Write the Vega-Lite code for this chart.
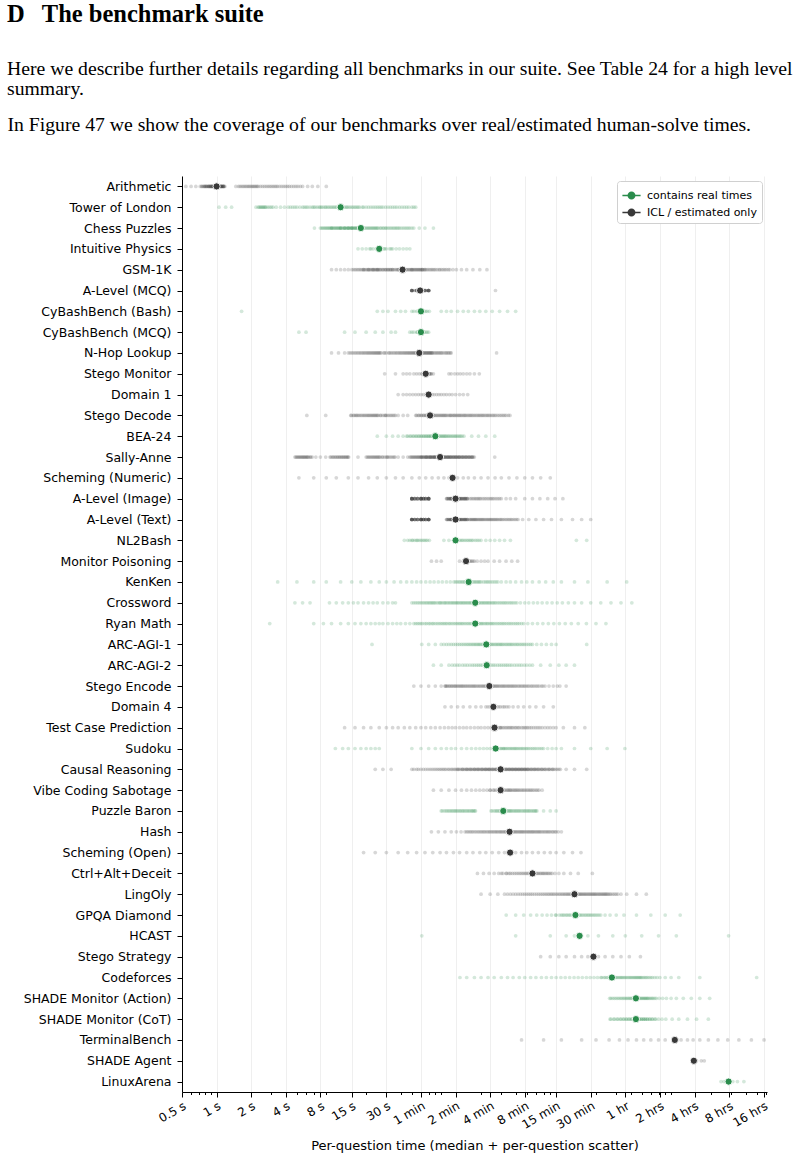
{
  "$schema": "https://vega.github.io/schema/vega-lite/v6.json",
  "autosize": "none",
  "width": 585,
  "height": 916,
  "padding": {"left": 182, "top": 176, "right": 37, "bottom": 69},
  "background": "white",
  "config": {"font": "DejaVu Sans", "view": {"stroke": null}},
  "title": {
    "text": "D\u2002\u2009The benchmark suite",
    "subtitle": [
      "Here we describe further details regarding all benchmarks in our suite. See Table 24 for a high level",
      "summary."
    ],
    "anchor": "start",
    "frame": "group",
    "dx": -175,
    "offset": 14,
    "font": "Liberation Serif",
    "fontSize": 24.5,
    "fontWeight": "bold",
    "color": "black",
    "subtitleFont": "Liberation Serif",
    "subtitleFontSize": 19.7,
    "subtitleColor": "black",
    "subtitleLineHeight": 20,
    "subtitlePadding": 32
  },
  "datasets": {
    "medians": [
      {"k": 1, "b": "Arithmetic", "src": "ICL / estimated only", "t": 1.0},
      {"k": 2, "b": "Tower of London", "src": "contains real times", "t": 12},
      {"k": 3, "b": "Chess Puzzles", "src": "contains real times", "t": 18},
      {"k": 4, "b": "Intuitive Physics", "src": "contains real times", "t": 26},
      {"k": 5, "b": "GSM-1K", "src": "ICL / estimated only", "t": 41.5},
      {"k": 6, "b": "A-Level (MCQ)", "src": "ICL / estimated only", "t": 59},
      {"k": 7, "b": "CyBashBench (Bash)", "src": "contains real times", "t": 60},
      {"k": 8, "b": "CyBashBench (MCQ)", "src": "contains real times", "t": 60},
      {"k": 9, "b": "N-Hop Lookup", "src": "ICL / estimated only", "t": 58},
      {"k": 10, "b": "Stego Monitor", "src": "ICL / estimated only", "t": 66},
      {"k": 11, "b": "Domain 1", "src": "ICL / estimated only", "t": 70},
      {"k": 12, "b": "Stego Decode", "src": "ICL / estimated only", "t": 72},
      {"k": 13, "b": "BEA-24", "src": "contains real times", "t": 80},
      {"k": 14, "b": "Sally-Anne", "src": "ICL / estimated only", "t": 88},
      {"k": 15, "b": "Scheming (Numeric)", "src": "ICL / estimated only", "t": 113},
      {"k": 16, "b": "A-Level (Image)", "src": "ICL / estimated only", "t": 120},
      {"k": 17, "b": "A-Level (Text)", "src": "ICL / estimated only", "t": 120},
      {"k": 18, "b": "NL2Bash", "src": "contains real times", "t": 120},
      {"k": 19, "b": "Monitor Poisoning", "src": "ICL / estimated only", "t": 148},
      {"k": 20, "b": "KenKen", "src": "contains real times", "t": 156},
      {"k": 21, "b": "Crossword", "src": "contains real times", "t": 178},
      {"k": 22, "b": "Ryan Math", "src": "contains real times", "t": 178},
      {"k": 23, "b": "ARC-AGI-1", "src": "contains real times", "t": 222},
      {"k": 24, "b": "ARC-AGI-2", "src": "contains real times", "t": 224},
      {"k": 25, "b": "Stego Encode", "src": "ICL / estimated only", "t": 236},
      {"k": 26, "b": "Domain 4", "src": "ICL / estimated only", "t": 256},
      {"k": 27, "b": "Test Case Prediction", "src": "ICL / estimated only", "t": 262},
      {"k": 28, "b": "Sudoku", "src": "contains real times", "t": 268},
      {"k": 29, "b": "Causal Reasoning", "src": "ICL / estimated only", "t": 296},
      {"k": 30, "b": "Vibe Coding Sabotage", "src": "ICL / estimated only", "t": 296},
      {"k": 31, "b": "Puzzle Baron", "src": "contains real times", "t": 312},
      {"k": 32, "b": "Hash", "src": "ICL / estimated only", "t": 354},
      {"k": 33, "b": "Scheming (Open)", "src": "ICL / estimated only", "t": 358},
      {"k": 34, "b": "Ctrl+Alt+Deceit", "src": "ICL / estimated only", "t": 560},
      {"k": 35, "b": "LingOly", "src": "ICL / estimated only", "t": 1300},
      {"k": 36, "b": "GPQA Diamond", "src": "contains real times", "t": 1325},
      {"k": 37, "b": "HCAST", "src": "contains real times", "t": 1440},
      {"k": 38, "b": "Stego Strategy", "src": "ICL / estimated only", "t": 1900},
      {"k": 39, "b": "Codeforces", "src": "contains real times", "t": 2750},
      {"k": 40, "b": "SHADE Monitor (Action)", "src": "contains real times", "t": 4450},
      {"k": 41, "b": "SHADE Monitor (CoT)", "src": "contains real times", "t": 4450},
      {"k": 42, "b": "TerminalBench", "src": "ICL / estimated only", "t": 9700},
      {"k": 43, "b": "SHADE Agent", "src": "ICL / estimated only", "t": 14200},
      {"k": 44, "b": "LinuxArena", "src": "contains real times", "t": 28500}
    ],
    "scatter": [
      {"k":1,"t":0.54},{"k":1,"t":0.6},{"k":1,"t":0.66},{"k":1,"t":0.72},{"k":1,"t":0.75},{"k":1,"t":0.78},{"k":1,"t":0.8},{"k":1,"t":0.82},{"k":1,"t":0.85},{"k":1,"t":0.85},{"k":1,"t":0.87},{"k":1,"t":0.9},{"k":1,"t":0.9},{"k":1,"t":0.92},{"k":1,"t":0.95},{"k":1,"t":0.95},{"k":1,"t":0.97},{"k":1,"t":1.0},{"k":1,"t":1.0},{"k":1,"t":1.03},{"k":1,"t":1.05},{"k":1,"t":1.05},{"k":1,"t":1.08},{"k":1,"t":1.1},{"k":1,"t":1.1},{"k":1,"t":1.12},{"k":1,"t":1.15},{"k":1,"t":1.15},{"k":1,"t":1.18},{"k":1,"t":1.47},{"k":1,"t":1.6},{"k":1,"t":1.7},{"k":1,"t":1.8},{"k":1,"t":1.9},{"k":1,"t":2.0},{"k":1,"t":2.1},{"k":1,"t":2.2},{"k":1,"t":2.3},{"k":1,"t":2.5},{"k":1,"t":2.6},{"k":1,"t":2.8},{"k":1,"t":3.0},{"k":1,"t":3.2},{"k":1,"t":3.4},{"k":1,"t":3.7},{"k":1,"t":4.0},{"k":1,"t":4.3},{"k":1,"t":4.7},{"k":1,"t":5.1},{"k":1,"t":5.6},{"k":1,"t":6.2},{"k":1,"t":6.8},{"k":1,"t":7.6},{"k":1,"t":9.0},
      {"k":1,"t":0.74},{"k":1,"t":0.77},{"k":1,"t":0.79},{"k":1,"t":0.81},{"k":1,"t":0.83},{"k":1,"t":0.86},{"k":1,"t":0.88},{"k":1,"t":0.89},{"k":1,"t":0.91},{"k":1,"t":0.93},{"k":1,"t":0.94},{"k":1,"t":0.96},{"k":1,"t":0.98},{"k":1,"t":0.99},{"k":1,"t":1.01},{"k":1,"t":1.02},{"k":1,"t":1.04},{"k":1,"t":1.06},{"k":1,"t":1.07},{"k":1,"t":1.09},{"k":1,"t":1.11},{"k":1,"t":1.13},{"k":1,"t":1.14},{"k":1,"t":1.16},{"k":1,"t":1.55},{"k":1,"t":1.65},{"k":1,"t":1.75},{"k":1,"t":1.85},{"k":1,"t":1.95},{"k":1,"t":2.05},{"k":1,"t":2.15},{"k":1,"t":2.25},{"k":1,"t":2.4},{"k":1,"t":2.7},{"k":1,"t":2.9},{"k":1,"t":3.1},{"k":1,"t":3.3},{"k":1,"t":3.55},{"k":1,"t":3.85},{"k":1,"t":4.15},{"k":1,"t":4.5},{"k":1,"t":4.9},{"k":1,"t":5.35},
      {"k":2,"t":1.05},{"k":2,"t":1.2},{"k":2,"t":1.35},{"k":2,"t":2.2},{"k":2,"t":2.3},{"k":2,"t":2.4},{"k":2,"t":2.5},{"k":2,"t":2.6},{"k":2,"t":2.7},{"k":2,"t":2.9},{"k":2,"t":3.1},{"k":2,"t":3.6},{"k":2,"t":4.2},{"k":2,"t":4.4},{"k":2,"t":5.6},{"k":2,"t":6.0},{"k":2,"t":6.5},{"k":2,"t":7.0},{"k":2,"t":7.5},{"k":2,"t":8.0},{"k":2,"t":8.5},{"k":2,"t":9.0},{"k":2,"t":9.6},{"k":2,"t":10.2},{"k":2,"t":10.8},{"k":2,"t":11.5},{"k":2,"t":12.5},{"k":2,"t":13.3},{"k":2,"t":14},{"k":2,"t":15},{"k":2,"t":16},{"k":2,"t":17},{"k":2,"t":18.5},{"k":2,"t":20},{"k":2,"t":22},{"k":2,"t":24},{"k":2,"t":26},{"k":2,"t":28},{"k":2,"t":31},{"k":2,"t":34},{"k":2,"t":37},{"k":2,"t":41},{"k":2,"t":45},{"k":2,"t":50},{"k":2,"t":54},
      {"k":2,"t":2.35},{"k":2,"t":2.45},{"k":2,"t":2.55},{"k":2,"t":2.65},{"k":2,"t":2.8},{"k":2,"t":3.0},{"k":2,"t":3.3},{"k":2,"t":3.9},{"k":2,"t":4.6},{"k":2,"t":4.8},{"k":2,"t":5.0},{"k":2,"t":5.3},{"k":2,"t":5.8},{"k":2,"t":6.2},{"k":2,"t":6.8},{"k":2,"t":7.2},{"k":2,"t":7.8},{"k":2,"t":8.2},{"k":2,"t":8.8},{"k":2,"t":9.3},{"k":2,"t":9.9},{"k":2,"t":10.5},{"k":2,"t":11.1},{"k":2,"t":11.8},{"k":2,"t":12.2},{"k":2,"t":12.8},{"k":2,"t":13.6},{"k":2,"t":14.5},{"k":2,"t":15.5},{"k":2,"t":16.5},{"k":2,"t":17.5},{"k":2,"t":19},{"k":2,"t":21},{"k":2,"t":23},{"k":2,"t":25},{"k":2,"t":27},{"k":2,"t":29.5},{"k":2,"t":32.5},{"k":2,"t":35.5},{"k":2,"t":39},{"k":2,"t":43},{"k":2,"t":47},{"k":2,"t":52},
      {"k":3,"t":7.1},{"k":3,"t":8.0},{"k":3,"t":8.4},{"k":3,"t":8.8},{"k":3,"t":9},{"k":3,"t":9.2},{"k":3,"t":9.6},{"k":3,"t":10},{"k":3,"t":10},{"k":3,"t":10.4},{"k":3,"t":10.8},{"k":3,"t":11},{"k":3,"t":11.2},{"k":3,"t":11.6},{"k":3,"t":12},{"k":3,"t":12},{"k":3,"t":12.5},{"k":3,"t":13},{"k":3,"t":13},{"k":3,"t":13.5},{"k":3,"t":14},{"k":3,"t":14},{"k":3,"t":14.5},{"k":3,"t":15},{"k":3,"t":15},{"k":3,"t":15.5},{"k":3,"t":16},{"k":3,"t":16.5},{"k":3,"t":17},{"k":3,"t":17.5},{"k":3,"t":18},{"k":3,"t":19},{"k":3,"t":20},{"k":3,"t":21},{"k":3,"t":22},{"k":3,"t":23},{"k":3,"t":24},{"k":3,"t":25},{"k":3,"t":26.5},{"k":3,"t":28},{"k":3,"t":29.5},{"k":3,"t":31},{"k":3,"t":33},{"k":3,"t":35},{"k":3,"t":37},{"k":3,"t":39},{"k":3,"t":42},{"k":3,"t":45},{"k":3,"t":48},{"k":3,"t":52},{"k":3,"t":58},{"k":3,"t":65},{"k":3,"t":77},
      {"k":3,"t":8.2},{"k":3,"t":8.6},{"k":3,"t":9.4},{"k":3,"t":9.8},{"k":3,"t":10.2},{"k":3,"t":10.6},{"k":3,"t":11.4},{"k":3,"t":11.8},{"k":3,"t":12.2},{"k":3,"t":12.8},{"k":3,"t":13.2},{"k":3,"t":13.8},{"k":3,"t":14.2},{"k":3,"t":14.8},{"k":3,"t":15.2},{"k":3,"t":15.8},{"k":3,"t":16.2},{"k":3,"t":16.8},{"k":3,"t":17.2},{"k":3,"t":17.8},{"k":3,"t":18.5},{"k":3,"t":19.5},{"k":3,"t":20.5},{"k":3,"t":21.5},{"k":3,"t":22.5},{"k":3,"t":23.5},{"k":3,"t":24.5},{"k":3,"t":25.5},{"k":3,"t":27},{"k":3,"t":28.5},{"k":3,"t":30},{"k":3,"t":32},{"k":3,"t":34},{"k":3,"t":36},{"k":3,"t":38},{"k":3,"t":40.5},{"k":3,"t":43.5},{"k":3,"t":46.5},{"k":3,"t":50},
      {"k":4,"t":17},{"k":4,"t":18.5},{"k":4,"t":20},{"k":4,"t":21.5},{"k":4,"t":23},{"k":4,"t":24.5},{"k":4,"t":25},{"k":4,"t":27},{"k":4,"t":28.5},{"k":4,"t":30},{"k":4,"t":32},{"k":4,"t":34},{"k":4,"t":36.5},{"k":4,"t":39},{"k":4,"t":42},{"k":4,"t":45},{"k":4,"t":48},{"k":4,"t":22},{"k":4,"t":26},{"k":4,"t":29},{"k":4,"t":33},
      {"k":5,"t":10},{"k":5,"t":11},{"k":5,"t":12},{"k":5,"t":13},{"k":5,"t":14},{"k":5,"t":15},{"k":5,"t":16},{"k":5,"t":17},{"k":5,"t":18},{"k":5,"t":19},{"k":5,"t":19},{"k":5,"t":20},{"k":5,"t":21},{"k":5,"t":21},{"k":5,"t":22},{"k":5,"t":23},{"k":5,"t":23},{"k":5,"t":24},{"k":5,"t":25},{"k":5,"t":25},{"k":5,"t":26.5},{"k":5,"t":28},{"k":5,"t":28},{"k":5,"t":29.5},{"k":5,"t":31},{"k":5,"t":31},{"k":5,"t":32.5},{"k":5,"t":34},{"k":5,"t":34},{"k":5,"t":36},{"k":5,"t":38},{"k":5,"t":38},{"k":5,"t":40},{"k":5,"t":42},{"k":5,"t":44},{"k":5,"t":44},{"k":5,"t":46},{"k":5,"t":48},{"k":5,"t":50},{"k":5,"t":50},{"k":5,"t":53},{"k":5,"t":56},{"k":5,"t":59},{"k":5,"t":62},{"k":5,"t":62},{"k":5,"t":66},{"k":5,"t":70},{"k":5,"t":74},{"k":5,"t":78},{"k":5,"t":83},{"k":5,"t":88},{"k":5,"t":94},{"k":5,"t":100},{"k":5,"t":107},{"k":5,"t":114},{"k":5,"t":122},{"k":5,"t":135},{"k":5,"t":150},{"k":5,"t":170},{"k":5,"t":195},{"k":5,"t":225},
      {"k":5,"t":15.5},{"k":5,"t":16.5},{"k":5,"t":17.5},{"k":5,"t":18.5},{"k":5,"t":19.5},{"k":5,"t":20.5},{"k":5,"t":21.5},{"k":5,"t":22.5},{"k":5,"t":23.5},{"k":5,"t":24.5},{"k":5,"t":25.5},{"k":5,"t":26},{"k":5,"t":27},{"k":5,"t":29},{"k":5,"t":30},{"k":5,"t":32},{"k":5,"t":33},{"k":5,"t":35},{"k":5,"t":37},{"k":5,"t":39},{"k":5,"t":41},{"k":5,"t":43},{"k":5,"t":45},{"k":5,"t":47},{"k":5,"t":49},{"k":5,"t":51},{"k":5,"t":52},{"k":5,"t":54},{"k":5,"t":55},{"k":5,"t":57},{"k":5,"t":58},{"k":5,"t":60},{"k":5,"t":61},{"k":5,"t":64},{"k":5,"t":65},{"k":5,"t":68},{"k":5,"t":72},{"k":5,"t":76},{"k":5,"t":80},{"k":5,"t":86},{"k":5,"t":91},{"k":5,"t":97},{"k":5,"t":104},
      {"k":6,"t":50},{"k":6,"t":50},{"k":6,"t":50},{"k":6,"t":50},{"k":6,"t":52},{"k":6,"t":54},{"k":6,"t":55},{"k":6,"t":55},{"k":6,"t":56},{"k":6,"t":58},{"k":6,"t":60},{"k":6,"t":60},{"k":6,"t":60},{"k":6,"t":62},{"k":6,"t":64},{"k":6,"t":65},{"k":6,"t":65},{"k":6,"t":66},{"k":6,"t":68},{"k":6,"t":70},{"k":6,"t":70},{"k":6,"t":70},{"k":6,"t":70},{"k":6,"t":267},
      {"k":6,"t":50},{"k":6,"t":50},{"k":6,"t":50},{"k":6,"t":55},{"k":6,"t":55},{"k":6,"t":60},{"k":6,"t":60},{"k":6,"t":60},{"k":6,"t":65},{"k":6,"t":65},{"k":6,"t":70},{"k":6,"t":70},{"k":6,"t":70},
      {"k":7,"t":1.65},{"k":7,"t":25},{"k":7,"t":28},{"k":7,"t":31},{"k":7,"t":36},{"k":7,"t":40},{"k":7,"t":44},{"k":7,"t":50},{"k":7,"t":52},{"k":7,"t":55},{"k":7,"t":57},{"k":7,"t":58},{"k":7,"t":60},{"k":7,"t":60},{"k":7,"t":62},{"k":7,"t":64},{"k":7,"t":66},{"k":7,"t":68},{"k":7,"t":71},{"k":7,"t":90},{"k":7,"t":100},{"k":7,"t":110},{"k":7,"t":125},{"k":7,"t":140},{"k":7,"t":155},{"k":7,"t":175},{"k":7,"t":195},{"k":7,"t":220},{"k":7,"t":250},{"k":7,"t":290},{"k":7,"t":340},{"k":7,"t":400},
      {"k":8,"t":5.2},{"k":8,"t":6},{"k":8,"t":13},{"k":8,"t":16},{"k":8,"t":20},{"k":8,"t":24},{"k":8,"t":28},{"k":8,"t":33},{"k":8,"t":36},{"k":8,"t":48},{"k":8,"t":50},{"k":8,"t":52},{"k":8,"t":55},{"k":8,"t":57},{"k":8,"t":58},{"k":8,"t":60},{"k":8,"t":60},{"k":8,"t":62},{"k":8,"t":64},{"k":8,"t":66},{"k":8,"t":68},{"k":8,"t":70},{"k":8,"t":56},{"k":8,"t":59},{"k":8,"t":61},{"k":8,"t":63},
      {"k":9,"t":10},{"k":9,"t":11.5},{"k":9,"t":13},{"k":9,"t":14},{"k":9,"t":15},{"k":9,"t":16},{"k":9,"t":17},{"k":9,"t":18},{"k":9,"t":19},{"k":9,"t":20},{"k":9,"t":21},{"k":9,"t":22},{"k":9,"t":23},{"k":9,"t":24},{"k":9,"t":25},{"k":9,"t":26},{"k":9,"t":27},{"k":9,"t":28.5},{"k":9,"t":30},{"k":9,"t":31.5},{"k":9,"t":33},{"k":9,"t":35},{"k":9,"t":37},{"k":9,"t":39},{"k":9,"t":41},{"k":9,"t":43},{"k":9,"t":45},{"k":9,"t":47},{"k":9,"t":49},{"k":9,"t":51},{"k":9,"t":53},{"k":9,"t":55},{"k":9,"t":57},{"k":9,"t":58},{"k":9,"t":59},{"k":9,"t":60},{"k":9,"t":61},{"k":9,"t":63},{"k":9,"t":64},{"k":9,"t":66},{"k":9,"t":67},{"k":9,"t":69},{"k":9,"t":72},{"k":9,"t":75},{"k":9,"t":78},{"k":9,"t":82},{"k":9,"t":86},{"k":9,"t":90},{"k":9,"t":95},{"k":9,"t":100},{"k":9,"t":105},{"k":9,"t":110},{"k":9,"t":273},
      {"k":9,"t":14.5},{"k":9,"t":15.5},{"k":9,"t":16.5},{"k":9,"t":17.5},{"k":9,"t":18.5},{"k":9,"t":19.5},{"k":9,"t":20.5},{"k":9,"t":21.5},{"k":9,"t":22.5},{"k":9,"t":23.5},{"k":9,"t":24.5},{"k":9,"t":25.5},{"k":9,"t":26.5},{"k":9,"t":29},{"k":9,"t":32},{"k":9,"t":34},{"k":9,"t":36},{"k":9,"t":38},{"k":9,"t":40},{"k":9,"t":42},{"k":9,"t":44},{"k":9,"t":46},{"k":9,"t":48},{"k":9,"t":50},{"k":9,"t":52},{"k":9,"t":54},{"k":9,"t":56},{"k":9,"t":62},{"k":9,"t":65},{"k":9,"t":68},{"k":9,"t":70},{"k":9,"t":71},{"k":9,"t":73},{"k":9,"t":74},{"k":9,"t":76},{"k":9,"t":80},{"k":9,"t":84},{"k":9,"t":88},{"k":9,"t":92},{"k":9,"t":98},{"k":9,"t":103},{"k":9,"t":108},
      {"k":10,"t":29},{"k":10,"t":36},{"k":10,"t":42},{"k":10,"t":45},{"k":10,"t":48},{"k":10,"t":52},{"k":10,"t":55},{"k":10,"t":58},{"k":10,"t":61},{"k":10,"t":63},{"k":10,"t":65},{"k":10,"t":66},{"k":10,"t":68},{"k":10,"t":70},{"k":10,"t":72},{"k":10,"t":74},{"k":10,"t":77},{"k":10,"t":105},{"k":10,"t":110},{"k":10,"t":118},{"k":10,"t":125},{"k":10,"t":132},{"k":10,"t":140},{"k":10,"t":150},{"k":10,"t":160},{"k":10,"t":175},{"k":10,"t":193},{"k":10,"t":62},{"k":10,"t":64},{"k":10,"t":66},{"k":10,"t":67},{"k":10,"t":69},{"k":10,"t":71},{"k":10,"t":73},
      {"k":11,"t":38},{"k":11,"t":42},{"k":11,"t":45},{"k":11,"t":48},{"k":11,"t":51},{"k":11,"t":54},{"k":11,"t":57},{"k":11,"t":60},{"k":11,"t":63},{"k":11,"t":66},{"k":11,"t":69},{"k":11,"t":72},{"k":11,"t":75},{"k":11,"t":78},{"k":11,"t":82},{"k":11,"t":86},{"k":11,"t":90},{"k":11,"t":95},{"k":11,"t":100},{"k":11,"t":106},{"k":11,"t":112},{"k":11,"t":120},{"k":11,"t":130},{"k":11,"t":140},{"k":11,"t":153},
      {"k":12,"t":6.1},{"k":12,"t":8.9},{"k":12,"t":14.7},{"k":12,"t":15.5},{"k":12,"t":16.3},{"k":12,"t":17},{"k":12,"t":18},{"k":12,"t":19},{"k":12,"t":20},{"k":12,"t":21},{"k":12,"t":22},{"k":12,"t":23},{"k":12,"t":24},{"k":12,"t":25},{"k":12,"t":26.5},{"k":12,"t":28},{"k":12,"t":29.5},{"k":12,"t":31},{"k":12,"t":33},{"k":12,"t":35},{"k":12,"t":36},{"k":12,"t":38},{"k":12,"t":42},{"k":12,"t":46},{"k":12,"t":54},{"k":12,"t":57},{"k":12,"t":60},{"k":12,"t":63},{"k":12,"t":66},{"k":12,"t":69},{"k":12,"t":72},{"k":12,"t":75},{"k":12,"t":78},{"k":12,"t":82},{"k":12,"t":86},{"k":12,"t":90},{"k":12,"t":94},{"k":12,"t":98},{"k":12,"t":103},{"k":12,"t":108},{"k":12,"t":113},{"k":12,"t":118},{"k":12,"t":124},{"k":12,"t":130},{"k":12,"t":136},{"k":12,"t":143},{"k":12,"t":150},{"k":12,"t":158},{"k":12,"t":166},{"k":12,"t":175},{"k":12,"t":185},{"k":12,"t":195},{"k":12,"t":205},{"k":12,"t":216},{"k":12,"t":228},{"k":12,"t":240},{"k":12,"t":255},{"k":12,"t":270},{"k":12,"t":290},{"k":12,"t":310},{"k":12,"t":330},{"k":12,"t":357},
      {"k":12,"t":14.9},{"k":12,"t":15.8},{"k":12,"t":16.6},{"k":12,"t":17.5},{"k":12,"t":18.5},{"k":12,"t":19.5},{"k":12,"t":20.5},{"k":12,"t":21.5},{"k":12,"t":22.5},{"k":12,"t":23.5},{"k":12,"t":24.5},{"k":12,"t":25.5},{"k":12,"t":27},{"k":12,"t":29},{"k":12,"t":30},{"k":12,"t":32},{"k":12,"t":34},{"k":12,"t":55},{"k":12,"t":58},{"k":12,"t":61},{"k":12,"t":64},{"k":12,"t":67},{"k":12,"t":70},{"k":12,"t":74},{"k":12,"t":77},{"k":12,"t":80},{"k":12,"t":84},{"k":12,"t":88},{"k":12,"t":92},{"k":12,"t":96},{"k":12,"t":100},{"k":12,"t":106},{"k":12,"t":110},{"k":12,"t":116},{"k":12,"t":121},{"k":12,"t":127},{"k":12,"t":133},{"k":12,"t":140},{"k":12,"t":146},{"k":12,"t":154},{"k":12,"t":162},{"k":12,"t":170},{"k":12,"t":180},{"k":12,"t":190},{"k":12,"t":200},{"k":12,"t":210},{"k":12,"t":222},{"k":12,"t":234},{"k":12,"t":248},{"k":12,"t":262},{"k":12,"t":280},{"k":12,"t":300},{"k":12,"t":320},{"k":12,"t":345},
      {"k":13,"t":25},{"k":13,"t":30},{"k":13,"t":34},{"k":13,"t":38},{"k":13,"t":42},{"k":13,"t":45},{"k":13,"t":48},{"k":13,"t":51},{"k":13,"t":54},{"k":13,"t":57},{"k":13,"t":60},{"k":13,"t":63},{"k":13,"t":66},{"k":13,"t":69},{"k":13,"t":72},{"k":13,"t":75},{"k":13,"t":78},{"k":13,"t":80},{"k":13,"t":83},{"k":13,"t":86},{"k":13,"t":90},{"k":13,"t":94},{"k":13,"t":98},{"k":13,"t":103},{"k":13,"t":108},{"k":13,"t":114},{"k":13,"t":120},{"k":13,"t":126},{"k":13,"t":133},{"k":13,"t":142},{"k":13,"t":166},{"k":13,"t":190},{"k":13,"t":220},{"k":13,"t":263},
      {"k":13,"t":46},{"k":13,"t":49},{"k":13,"t":52},{"k":13,"t":55},{"k":13,"t":58},{"k":13,"t":61},{"k":13,"t":64},{"k":13,"t":67},{"k":13,"t":70},{"k":13,"t":73},{"k":13,"t":76},{"k":13,"t":79},{"k":13,"t":81},{"k":13,"t":84},{"k":13,"t":88},{"k":13,"t":92},{"k":13,"t":96},{"k":13,"t":100},{"k":13,"t":105},{"k":13,"t":111},{"k":13,"t":117},{"k":13,"t":123},{"k":13,"t":130},{"k":13,"t":137},
      {"k":14,"t":4.8},{"k":14,"t":5.0},{"k":14,"t":5.2},{"k":14,"t":5.4},{"k":14,"t":5.6},{"k":14,"t":5.8},{"k":14,"t":6.0},{"k":14,"t":6.2},{"k":14,"t":6.5},{"k":14,"t":6.8},{"k":14,"t":7.3},{"k":14,"t":8.0},{"k":14,"t":8.9},{"k":14,"t":9.7},{"k":14,"t":10.2},{"k":14,"t":10.7},{"k":14,"t":11.2},{"k":14,"t":11.7},{"k":14,"t":12.2},{"k":14,"t":12.7},{"k":14,"t":13.2},{"k":14,"t":13.7},{"k":14,"t":14.1},{"k":14,"t":17},{"k":14,"t":20},{"k":14,"t":21},{"k":14,"t":22},{"k":14,"t":23},{"k":14,"t":24},{"k":14,"t":25},{"k":14,"t":26},{"k":14,"t":27.5},{"k":14,"t":29},{"k":14,"t":30.5},{"k":14,"t":32},{"k":14,"t":34},{"k":14,"t":35.7},{"k":14,"t":38},{"k":14,"t":42},{"k":14,"t":46},{"k":14,"t":48},{"k":14,"t":50},{"k":14,"t":52},{"k":14,"t":54},{"k":14,"t":56},{"k":14,"t":58},{"k":14,"t":60},{"k":14,"t":62},{"k":14,"t":64},{"k":14,"t":66},{"k":14,"t":68},{"k":14,"t":70},{"k":14,"t":72},{"k":14,"t":74},{"k":14,"t":76},{"k":14,"t":78},{"k":14,"t":80},{"k":14,"t":83},{"k":14,"t":86},{"k":14,"t":89},{"k":14,"t":92},{"k":14,"t":95},{"k":14,"t":98},{"k":14,"t":101},{"k":14,"t":104},{"k":14,"t":107},{"k":14,"t":110},{"k":14,"t":114},{"k":14,"t":118},{"k":14,"t":122},{"k":14,"t":126},{"k":14,"t":130},{"k":14,"t":135},{"k":14,"t":140},{"k":14,"t":145},{"k":14,"t":150},{"k":14,"t":156},{"k":14,"t":162},{"k":14,"t":168},{"k":14,"t":175},{"k":14,"t":263},
      {"k":14,"t":4.9},{"k":14,"t":5.1},{"k":14,"t":5.3},{"k":14,"t":5.5},{"k":14,"t":5.7},{"k":14,"t":5.9},{"k":14,"t":6.1},{"k":14,"t":6.3},{"k":14,"t":6.6},{"k":14,"t":9.9},{"k":14,"t":10.4},{"k":14,"t":10.9},{"k":14,"t":11.4},{"k":14,"t":11.9},{"k":14,"t":12.4},{"k":14,"t":12.9},{"k":14,"t":13.4},{"k":14,"t":13.9},{"k":14,"t":20.5},{"k":14,"t":21.5},{"k":14,"t":22.5},{"k":14,"t":23.5},{"k":14,"t":24.5},{"k":14,"t":25.5},{"k":14,"t":26.5},{"k":14,"t":28},{"k":14,"t":30},{"k":14,"t":31},{"k":14,"t":33},{"k":14,"t":35},{"k":14,"t":49},{"k":14,"t":51},{"k":14,"t":53},{"k":14,"t":55},{"k":14,"t":57},{"k":14,"t":59},{"k":14,"t":61},{"k":14,"t":63},{"k":14,"t":65},{"k":14,"t":67},{"k":14,"t":69},{"k":14,"t":71},{"k":14,"t":73},{"k":14,"t":75},{"k":14,"t":77},{"k":14,"t":79},{"k":14,"t":81},{"k":14,"t":84},{"k":14,"t":87},{"k":14,"t":90},{"k":14,"t":93},{"k":14,"t":96},{"k":14,"t":99},{"k":14,"t":102},{"k":14,"t":105},{"k":14,"t":108},{"k":14,"t":112},{"k":14,"t":116},{"k":14,"t":120},{"k":14,"t":124},{"k":14,"t":128},{"k":14,"t":132},{"k":14,"t":137},{"k":14,"t":142},{"k":14,"t":148},{"k":14,"t":153},{"k":14,"t":159},{"k":14,"t":165},{"k":14,"t":171},{"k":14,"t":60.5},{"k":14,"t":66.5},{"k":14,"t":72.5},{"k":14,"t":78.5},{"k":14,"t":85},{"k":14,"t":91},{"k":14,"t":97},{"k":14,"t":103},{"k":14,"t":109},{"k":14,"t":115},{"k":14,"t":121},{"k":14,"t":129},{"k":14,"t":138},{"k":14,"t":147},{"k":14,"t":157},{"k":14,"t":167},
      {"k":15,"t":5.2},{"k":15,"t":7},{"k":15,"t":9},{"k":15,"t":11},{"k":15,"t":14},{"k":15,"t":17},{"k":15,"t":21},{"k":15,"t":25},{"k":15,"t":30},{"k":15,"t":36},{"k":15,"t":42},{"k":15,"t":50},{"k":15,"t":58},{"k":15,"t":66},{"k":15,"t":75},{"k":15,"t":85},{"k":15,"t":95},{"k":15,"t":105},{"k":15,"t":125},{"k":15,"t":140},{"k":15,"t":155},{"k":15,"t":175},{"k":15,"t":200},{"k":15,"t":230},{"k":15,"t":265},{"k":15,"t":300},{"k":15,"t":350},{"k":15,"t":410},{"k":15,"t":480},{"k":15,"t":560},{"k":15,"t":660},{"k":15,"t":800},
      {"k":16,"t":50},{"k":16,"t":50},{"k":16,"t":50},{"k":16,"t":50},{"k":16,"t":50},{"k":16,"t":53},{"k":16,"t":53},{"k":16,"t":53},{"k":16,"t":56},{"k":16,"t":56},{"k":16,"t":56},{"k":16,"t":60},{"k":16,"t":60},{"k":16,"t":60},{"k":16,"t":60},{"k":16,"t":60},{"k":16,"t":63},{"k":16,"t":63},{"k":16,"t":63},{"k":16,"t":66},{"k":16,"t":66},{"k":16,"t":66},{"k":16,"t":70},{"k":16,"t":70},{"k":16,"t":70},{"k":16,"t":70},{"k":16,"t":70},{"k":16,"t":100},{"k":16,"t":102},{"k":16,"t":105},{"k":16,"t":108},{"k":16,"t":110},{"k":16,"t":112},{"k":16,"t":115},{"k":16,"t":118},{"k":16,"t":120},{"k":16,"t":122},{"k":16,"t":125},{"k":16,"t":128},{"k":16,"t":130},{"k":16,"t":133},{"k":16,"t":136},{"k":16,"t":140},{"k":16,"t":143},{"k":16,"t":146},{"k":16,"t":150},{"k":16,"t":153},{"k":16,"t":160},{"k":16,"t":170},{"k":16,"t":180},{"k":16,"t":190},{"k":16,"t":200},{"k":16,"t":215},{"k":16,"t":230},{"k":16,"t":245},{"k":16,"t":260},{"k":16,"t":280},{"k":16,"t":300},{"k":16,"t":330},{"k":16,"t":360},{"k":16,"t":400},{"k":16,"t":480},{"k":16,"t":560},{"k":16,"t":650},{"k":16,"t":760},{"k":16,"t":880},{"k":16,"t":1030},
      {"k":16,"t":50},{"k":16,"t":50},{"k":16,"t":50},{"k":16,"t":53},{"k":16,"t":53},{"k":16,"t":56},{"k":16,"t":56},{"k":16,"t":60},{"k":16,"t":60},{"k":16,"t":60},{"k":16,"t":63},{"k":16,"t":63},{"k":16,"t":66},{"k":16,"t":66},{"k":16,"t":70},{"k":16,"t":70},{"k":16,"t":70},{"k":16,"t":101},{"k":16,"t":104},{"k":16,"t":107},{"k":16,"t":109},{"k":16,"t":111},{"k":16,"t":114},{"k":16,"t":117},{"k":16,"t":119},{"k":16,"t":121},{"k":16,"t":124},{"k":16,"t":127},{"k":16,"t":129},{"k":16,"t":132},{"k":16,"t":135},{"k":16,"t":138},{"k":16,"t":142},{"k":16,"t":145},{"k":16,"t":148},{"k":16,"t":152},{"k":16,"t":165},{"k":16,"t":175},{"k":16,"t":185},{"k":16,"t":195},{"k":16,"t":208},{"k":16,"t":222},{"k":16,"t":238},{"k":16,"t":252},{"k":16,"t":270},{"k":16,"t":290},
      {"k":17,"t":50},{"k":17,"t":50},{"k":17,"t":50},{"k":17,"t":50},{"k":17,"t":50},{"k":17,"t":53},{"k":17,"t":53},{"k":17,"t":53},{"k":17,"t":56},{"k":17,"t":56},{"k":17,"t":56},{"k":17,"t":60},{"k":17,"t":60},{"k":17,"t":60},{"k":17,"t":60},{"k":17,"t":60},{"k":17,"t":63},{"k":17,"t":63},{"k":17,"t":63},{"k":17,"t":66},{"k":17,"t":66},{"k":17,"t":66},{"k":17,"t":70},{"k":17,"t":70},{"k":17,"t":70},{"k":17,"t":70},{"k":17,"t":70},{"k":17,"t":100},{"k":17,"t":102},{"k":17,"t":105},{"k":17,"t":108},{"k":17,"t":110},{"k":17,"t":112},{"k":17,"t":115},{"k":17,"t":118},{"k":17,"t":120},{"k":17,"t":122},{"k":17,"t":125},{"k":17,"t":128},{"k":17,"t":130},{"k":17,"t":133},{"k":17,"t":136},{"k":17,"t":140},{"k":17,"t":143},{"k":17,"t":146},{"k":17,"t":150},{"k":17,"t":153},{"k":17,"t":158},{"k":17,"t":164},{"k":17,"t":170},{"k":17,"t":176},{"k":17,"t":182},{"k":17,"t":190},{"k":17,"t":198},{"k":17,"t":206},{"k":17,"t":215},{"k":17,"t":225},{"k":17,"t":235},{"k":17,"t":245},{"k":17,"t":256},{"k":17,"t":268},{"k":17,"t":280},{"k":17,"t":295},{"k":17,"t":310},{"k":17,"t":330},{"k":17,"t":350},{"k":17,"t":370},{"k":17,"t":395},{"k":17,"t":420},{"k":17,"t":460},{"k":17,"t":520},{"k":17,"t":600},{"k":17,"t":700},{"k":17,"t":820},{"k":17,"t":1000},{"k":17,"t":1250},{"k":17,"t":1500},{"k":17,"t":1800},
      {"k":17,"t":50},{"k":17,"t":50},{"k":17,"t":50},{"k":17,"t":53},{"k":17,"t":53},{"k":17,"t":56},{"k":17,"t":56},{"k":17,"t":60},{"k":17,"t":60},{"k":17,"t":60},{"k":17,"t":63},{"k":17,"t":63},{"k":17,"t":66},{"k":17,"t":66},{"k":17,"t":70},{"k":17,"t":70},{"k":17,"t":70},{"k":17,"t":101},{"k":17,"t":104},{"k":17,"t":107},{"k":17,"t":109},{"k":17,"t":111},{"k":17,"t":114},{"k":17,"t":117},{"k":17,"t":119},{"k":17,"t":121},{"k":17,"t":124},{"k":17,"t":127},{"k":17,"t":129},{"k":17,"t":132},{"k":17,"t":135},{"k":17,"t":138},{"k":17,"t":142},{"k":17,"t":145},{"k":17,"t":148},{"k":17,"t":152},{"k":17,"t":161},{"k":17,"t":167},{"k":17,"t":173},{"k":17,"t":179},{"k":17,"t":186},{"k":17,"t":194},{"k":17,"t":202},{"k":17,"t":210},{"k":17,"t":220},{"k":17,"t":230},{"k":17,"t":240},{"k":17,"t":250},{"k":17,"t":262},{"k":17,"t":274},{"k":17,"t":288},{"k":17,"t":302},{"k":17,"t":320},{"k":17,"t":340},{"k":17,"t":360},{"k":17,"t":382},{"k":17,"t":408},
      {"k":18,"t":43},{"k":18,"t":46},{"k":18,"t":50},{"k":18,"t":53},{"k":18,"t":56},{"k":18,"t":60},{"k":18,"t":64},{"k":18,"t":68},{"k":18,"t":71},{"k":18,"t":95},{"k":18,"t":105},{"k":18,"t":115},{"k":18,"t":125},{"k":18,"t":132},{"k":18,"t":140},{"k":18,"t":150},{"k":18,"t":160},{"k":18,"t":170},{"k":18,"t":185},{"k":18,"t":200},{"k":18,"t":220},{"k":18,"t":240},{"k":18,"t":263},{"k":18,"t":290},{"k":18,"t":320},{"k":18,"t":360},{"k":18,"t":1350},{"k":18,"t":1660},{"k":18,"t":48},{"k":18,"t":51},{"k":18,"t":55},{"k":18,"t":58},{"k":18,"t":62},{"k":18,"t":66},{"k":18,"t":118},{"k":18,"t":122},{"k":18,"t":128},{"k":18,"t":136},{"k":18,"t":145},{"k":18,"t":155},{"k":18,"t":165},{"k":18,"t":178},{"k":18,"t":192},
      {"k":19,"t":74},{"k":19,"t":82},{"k":19,"t":90},{"k":19,"t":130},{"k":19,"t":140},{"k":19,"t":158},{"k":19,"t":166},{"k":19,"t":175},{"k":19,"t":185},{"k":19,"t":200},{"k":19,"t":215},{"k":19,"t":230},{"k":19,"t":260},{"k":19,"t":290},{"k":19,"t":330},{"k":19,"t":370},{"k":19,"t":416},{"k":19,"t":150},{"k":19,"t":155},{"k":19,"t":162},{"k":19,"t":170},
      {"k":20,"t":3.4},{"k":20,"t":5},{"k":20,"t":7},{"k":20,"t":9},{"k":20,"t":12},{"k":20,"t":15},{"k":20,"t":18},{"k":20,"t":22},{"k":20,"t":26},{"k":20,"t":30},{"k":20,"t":35},{"k":20,"t":40},{"k":20,"t":45},{"k":20,"t":50},{"k":20,"t":55},{"k":20,"t":60},{"k":20,"t":66},{"k":20,"t":72},{"k":20,"t":78},{"k":20,"t":85},{"k":20,"t":92},{"k":20,"t":100},{"k":20,"t":108},{"k":20,"t":116},{"k":20,"t":124},{"k":20,"t":132},{"k":20,"t":140},{"k":20,"t":148},{"k":20,"t":165},{"k":20,"t":175},{"k":20,"t":185},{"k":20,"t":195},{"k":20,"t":210},{"k":20,"t":225},{"k":20,"t":240},{"k":20,"t":260},{"k":20,"t":280},{"k":20,"t":300},{"k":20,"t":330},{"k":20,"t":360},{"k":20,"t":400},{"k":20,"t":450},{"k":20,"t":500},{"k":20,"t":560},{"k":20,"t":640},{"k":20,"t":730},{"k":20,"t":850},{"k":20,"t":1000},{"k":20,"t":1300},{"k":20,"t":1700},{"k":20,"t":2500},{"k":20,"t":3700},
      {"k":20,"t":120},{"k":20,"t":128},{"k":20,"t":136},{"k":20,"t":144},{"k":20,"t":152},{"k":20,"t":160},{"k":20,"t":170},{"k":20,"t":180},{"k":20,"t":190},{"k":20,"t":200},{"k":20,"t":218},{"k":20,"t":232},{"k":20,"t":250},{"k":20,"t":270},
      {"k":21,"t":4.8},{"k":21,"t":5.6},{"k":21,"t":6.5},{"k":21,"t":9.6},{"k":21,"t":11},{"k":21,"t":12.5},{"k":21,"t":14},{"k":21,"t":15.5},{"k":21,"t":17},{"k":21,"t":19},{"k":21,"t":21},{"k":21,"t":23},{"k":21,"t":25},{"k":21,"t":28},{"k":21,"t":31},{"k":21,"t":34},{"k":21,"t":36},{"k":21,"t":50},{"k":21,"t":54},{"k":21,"t":58},{"k":21,"t":62},{"k":21,"t":66},{"k":21,"t":70},{"k":21,"t":74},{"k":21,"t":78},{"k":21,"t":83},{"k":21,"t":88},{"k":21,"t":93},{"k":21,"t":98},{"k":21,"t":104},{"k":21,"t":110},{"k":21,"t":116},{"k":21,"t":122},{"k":21,"t":128},{"k":21,"t":135},{"k":21,"t":142},{"k":21,"t":150},{"k":21,"t":158},{"k":21,"t":166},{"k":21,"t":175},{"k":21,"t":186},{"k":21,"t":194},{"k":21,"t":205},{"k":21,"t":216},{"k":21,"t":228},{"k":21,"t":240},{"k":21,"t":255},{"k":21,"t":270},{"k":21,"t":290},{"k":21,"t":310},{"k":21,"t":330},{"k":21,"t":355},{"k":21,"t":380},{"k":21,"t":410},{"k":21,"t":440},{"k":21,"t":480},{"k":21,"t":520},{"k":21,"t":570},{"k":21,"t":620},{"k":21,"t":680},{"k":21,"t":750},{"k":21,"t":830},{"k":21,"t":920},{"k":21,"t":1020},{"k":21,"t":1150},{"k":21,"t":1300},{"k":21,"t":1500},{"k":21,"t":1800},{"k":21,"t":2200},{"k":21,"t":2700},{"k":21,"t":3300},{"k":21,"t":4100},
      {"k":21,"t":52},{"k":21,"t":56},{"k":21,"t":60},{"k":21,"t":64},{"k":21,"t":68},{"k":21,"t":72},{"k":21,"t":76},{"k":21,"t":80},{"k":21,"t":86},{"k":21,"t":90},{"k":21,"t":96},{"k":21,"t":101},{"k":21,"t":107},{"k":21,"t":113},{"k":21,"t":119},{"k":21,"t":125},{"k":21,"t":132},{"k":21,"t":139},{"k":21,"t":146},{"k":21,"t":154},{"k":21,"t":162},{"k":21,"t":170},{"k":21,"t":181},{"k":21,"t":190},{"k":21,"t":200},{"k":21,"t":211},{"k":21,"t":222},{"k":21,"t":234},{"k":21,"t":248},{"k":21,"t":262},{"k":21,"t":280},{"k":21,"t":300},{"k":21,"t":320},{"k":21,"t":342},{"k":21,"t":367},{"k":21,"t":395},
      {"k":22,"t":2.9},{"k":22,"t":7},{"k":22,"t":8.5},{"k":22,"t":10},{"k":22,"t":12},{"k":22,"t":14},{"k":22,"t":16},{"k":22,"t":18},{"k":22,"t":20},{"k":22,"t":22},{"k":22,"t":24},{"k":22,"t":26},{"k":22,"t":28},{"k":22,"t":31},{"k":22,"t":34},{"k":22,"t":37},{"k":22,"t":40},{"k":22,"t":44},{"k":22,"t":48},{"k":22,"t":52},{"k":22,"t":56},{"k":22,"t":60},{"k":22,"t":65},{"k":22,"t":70},{"k":22,"t":75},{"k":22,"t":80},{"k":22,"t":86},{"k":22,"t":92},{"k":22,"t":98},{"k":22,"t":105},{"k":22,"t":112},{"k":22,"t":120},{"k":22,"t":128},{"k":22,"t":136},{"k":22,"t":145},{"k":22,"t":155},{"k":22,"t":165},{"k":22,"t":175},{"k":22,"t":185},{"k":22,"t":195},{"k":22,"t":205},{"k":22,"t":218},{"k":22,"t":230},{"k":22,"t":245},{"k":22,"t":260},{"k":22,"t":280},{"k":22,"t":300},{"k":22,"t":320},{"k":22,"t":345},{"k":22,"t":370},{"k":22,"t":400},{"k":22,"t":430},{"k":22,"t":470},{"k":22,"t":510},{"k":22,"t":560},{"k":22,"t":620},{"k":22,"t":690},{"k":22,"t":770},{"k":22,"t":860},{"k":22,"t":960},{"k":22,"t":1080},{"k":22,"t":1220},{"k":22,"t":1400},{"k":22,"t":1650},{"k":22,"t":2000},{"k":22,"t":2440},
      {"k":22,"t":54},{"k":22,"t":58},{"k":22,"t":62},{"k":22,"t":67},{"k":22,"t":72},{"k":22,"t":77},{"k":22,"t":83},{"k":22,"t":89},{"k":22,"t":95},{"k":22,"t":101},{"k":22,"t":108},{"k":22,"t":116},{"k":22,"t":124},{"k":22,"t":132},{"k":22,"t":140},{"k":22,"t":150},{"k":22,"t":160},{"k":22,"t":170},{"k":22,"t":180},{"k":22,"t":190},{"k":22,"t":200},{"k":22,"t":211},{"k":22,"t":224},{"k":22,"t":238},{"k":22,"t":252},{"k":22,"t":270},{"k":22,"t":290},{"k":22,"t":310},{"k":22,"t":332},{"k":22,"t":357},{"k":22,"t":385},{"k":22,"t":415},{"k":22,"t":450},
      {"k":23,"t":22.5},{"k":23,"t":61},{"k":23,"t":70},{"k":23,"t":80},{"k":23,"t":90},{"k":23,"t":100},{"k":23,"t":110},{"k":23,"t":120},{"k":23,"t":130},{"k":23,"t":140},{"k":23,"t":150},{"k":23,"t":160},{"k":23,"t":170},{"k":23,"t":180},{"k":23,"t":190},{"k":23,"t":200},{"k":23,"t":212},{"k":23,"t":238},{"k":23,"t":250},{"k":23,"t":265},{"k":23,"t":280},{"k":23,"t":295},{"k":23,"t":310},{"k":23,"t":330},{"k":23,"t":350},{"k":23,"t":370},{"k":23,"t":395},{"k":23,"t":420},{"k":23,"t":450},{"k":23,"t":480},{"k":23,"t":520},{"k":23,"t":560},{"k":23,"t":610},{"k":23,"t":670},{"k":23,"t":740},{"k":23,"t":820},{"k":23,"t":900},{"k":23,"t":1660},
      {"k":23,"t":95},{"k":23,"t":105},{"k":23,"t":115},{"k":23,"t":125},{"k":23,"t":135},{"k":23,"t":145},{"k":23,"t":155},{"k":23,"t":165},{"k":23,"t":175},{"k":23,"t":185},{"k":23,"t":195},{"k":23,"t":206},{"k":23,"t":218},{"k":23,"t":231},{"k":23,"t":244},{"k":23,"t":257},{"k":23,"t":272},{"k":23,"t":287},{"k":23,"t":302},{"k":23,"t":320},{"k":23,"t":340},{"k":23,"t":360},{"k":23,"t":382},{"k":23,"t":408},{"k":23,"t":435},{"k":23,"t":465},{"k":23,"t":500},{"k":23,"t":540},
      {"k":24,"t":77},{"k":24,"t":90},{"k":24,"t":105},{"k":24,"t":118},{"k":24,"t":130},{"k":24,"t":145},{"k":24,"t":160},{"k":24,"t":175},{"k":24,"t":190},{"k":24,"t":205},{"k":24,"t":245},{"k":24,"t":265},{"k":24,"t":290},{"k":24,"t":315},{"k":24,"t":340},{"k":24,"t":370},{"k":24,"t":410},{"k":24,"t":450},{"k":24,"t":500},{"k":24,"t":560},{"k":24,"t":660},{"k":24,"t":800},{"k":24,"t":950},{"k":24,"t":1100},{"k":24,"t":1300},
      {"k":24,"t":112},{"k":24,"t":124},{"k":24,"t":138},{"k":24,"t":152},{"k":24,"t":168},{"k":24,"t":183},{"k":24,"t":198},{"k":24,"t":215},{"k":24,"t":235},{"k":24,"t":255},{"k":24,"t":278},{"k":24,"t":302},{"k":24,"t":328},{"k":24,"t":355},{"k":24,"t":390},{"k":24,"t":430},{"k":24,"t":475},{"k":24,"t":530},
      {"k":25,"t":52},{"k":25,"t":60},{"k":25,"t":70},{"k":25,"t":80},{"k":25,"t":90},{"k":25,"t":97},{"k":25,"t":100},{"k":25,"t":105},{"k":25,"t":110},{"k":25,"t":115},{"k":25,"t":120},{"k":25,"t":126},{"k":25,"t":132},{"k":25,"t":138},{"k":25,"t":145},{"k":25,"t":152},{"k":25,"t":160},{"k":25,"t":168},{"k":25,"t":176},{"k":25,"t":185},{"k":25,"t":195},{"k":25,"t":205},{"k":25,"t":215},{"k":25,"t":225},{"k":25,"t":235},{"k":25,"t":250},{"k":25,"t":260},{"k":25,"t":272},{"k":25,"t":285},{"k":25,"t":300},{"k":25,"t":315},{"k":25,"t":330},{"k":25,"t":348},{"k":25,"t":366},{"k":25,"t":385},{"k":25,"t":405},{"k":25,"t":430},{"k":25,"t":455},{"k":25,"t":480},{"k":25,"t":510},{"k":25,"t":545},{"k":25,"t":580},{"k":25,"t":620},{"k":25,"t":670},{"k":25,"t":720},{"k":25,"t":780},{"k":25,"t":850},{"k":25,"t":920},{"k":25,"t":970},{"k":25,"t":1100},
      {"k":25,"t":98},{"k":25,"t":102},{"k":25,"t":107},{"k":25,"t":112},{"k":25,"t":118},{"k":25,"t":123},{"k":25,"t":129},{"k":25,"t":135},{"k":25,"t":141},{"k":25,"t":148},{"k":25,"t":156},{"k":25,"t":164},{"k":25,"t":172},{"k":25,"t":180},{"k":25,"t":190},{"k":25,"t":200},{"k":25,"t":210},{"k":25,"t":220},{"k":25,"t":230},{"k":25,"t":245},{"k":25,"t":255},{"k":25,"t":266},{"k":25,"t":278},{"k":25,"t":292},{"k":25,"t":307},{"k":25,"t":322},{"k":25,"t":340},{"k":25,"t":357},{"k":25,"t":375},{"k":25,"t":395},{"k":25,"t":418},{"k":25,"t":442},{"k":25,"t":468},{"k":25,"t":495},{"k":25,"t":525},{"k":25,"t":560},{"k":25,"t":600},{"k":25,"t":640},{"k":25,"t":690},
      {"k":26,"t":97},{"k":26,"t":110},{"k":26,"t":125},{"k":26,"t":140},{"k":26,"t":160},{"k":26,"t":180},{"k":26,"t":200},{"k":26,"t":220},{"k":26,"t":240},{"k":26,"t":275},{"k":26,"t":295},{"k":26,"t":320},{"k":26,"t":350},{"k":26,"t":380},{"k":26,"t":420},{"k":26,"t":470},{"k":26,"t":530},{"k":26,"t":600},{"k":26,"t":700},{"k":26,"t":850},{"k":26,"t":230},{"k":26,"t":250},{"k":26,"t":265},{"k":26,"t":285},{"k":26,"t":310},{"k":26,"t":335},
      {"k":27,"t":13},{"k":27,"t":16},{"k":27,"t":19},{"k":27,"t":22},{"k":27,"t":26},{"k":27,"t":30},{"k":27,"t":34},{"k":27,"t":38},{"k":27,"t":43},{"k":27,"t":48},{"k":27,"t":54},{"k":27,"t":60},{"k":27,"t":66},{"k":27,"t":73},{"k":27,"t":80},{"k":27,"t":88},{"k":27,"t":96},{"k":27,"t":104},{"k":27,"t":112},{"k":27,"t":120},{"k":27,"t":130},{"k":27,"t":140},{"k":27,"t":150},{"k":27,"t":162},{"k":27,"t":175},{"k":27,"t":188},{"k":27,"t":200},{"k":27,"t":215},{"k":27,"t":230},{"k":27,"t":245},{"k":27,"t":280},{"k":27,"t":295},{"k":27,"t":310},{"k":27,"t":330},{"k":27,"t":350},{"k":27,"t":370},{"k":27,"t":395},{"k":27,"t":420},{"k":27,"t":450},{"k":27,"t":480},{"k":27,"t":510},{"k":27,"t":550},{"k":27,"t":600},{"k":27,"t":650},{"k":27,"t":720},{"k":27,"t":800},{"k":27,"t":900},{"k":27,"t":1040},{"k":27,"t":1300},{"k":27,"t":1600},
      {"k":27,"t":250},{"k":27,"t":260},{"k":27,"t":270},{"k":27,"t":290},{"k":27,"t":300},{"k":27,"t":320},{"k":27,"t":340},{"k":27,"t":360},{"k":27,"t":380},{"k":27,"t":405},{"k":27,"t":430},{"k":27,"t":465},{"k":27,"t":495},{"k":27,"t":530},{"k":27,"t":575},{"k":27,"t":625},{"k":27,"t":680},{"k":27,"t":760},{"k":27,"t":850},
      {"k":28,"t":10.8},{"k":28,"t":12.5},{"k":28,"t":14},{"k":28,"t":16},{"k":28,"t":18},{"k":28,"t":20},{"k":28,"t":22},{"k":28,"t":24},{"k":28,"t":26},{"k":28,"t":50},{"k":28,"t":60},{"k":28,"t":70},{"k":28,"t":80},{"k":28,"t":90},{"k":28,"t":100},{"k":28,"t":110},{"k":28,"t":120},{"k":28,"t":135},{"k":28,"t":150},{"k":28,"t":165},{"k":28,"t":180},{"k":28,"t":195},{"k":28,"t":210},{"k":28,"t":225},{"k":28,"t":240},{"k":28,"t":255},{"k":28,"t":285},{"k":28,"t":300},{"k":28,"t":315},{"k":28,"t":330},{"k":28,"t":350},{"k":28,"t":370},{"k":28,"t":390},{"k":28,"t":410},{"k":28,"t":435},{"k":28,"t":460},{"k":28,"t":490},{"k":28,"t":520},{"k":28,"t":560},{"k":28,"t":600},{"k":28,"t":650},{"k":28,"t":700},{"k":28,"t":760},{"k":28,"t":830},{"k":28,"t":900},{"k":28,"t":1000},{"k":28,"t":1300},{"k":28,"t":1800},{"k":28,"t":2500},{"k":28,"t":3570},
      {"k":28,"t":260},{"k":28,"t":280},{"k":28,"t":295},{"k":28,"t":310},{"k":28,"t":322},{"k":28,"t":340},{"k":28,"t":360},{"k":28,"t":380},{"k":28,"t":400},{"k":28,"t":422},{"k":28,"t":448},{"k":28,"t":475},{"k":28,"t":505},{"k":28,"t":540},{"k":28,"t":580},{"k":28,"t":625},{"k":28,"t":675},
      {"k":29,"t":24},{"k":29,"t":28},{"k":29,"t":33},{"k":29,"t":50},{"k":29,"t":55},{"k":29,"t":60},{"k":29,"t":66},{"k":29,"t":72},{"k":29,"t":78},{"k":29,"t":84},{"k":29,"t":90},{"k":29,"t":96},{"k":29,"t":103},{"k":29,"t":110},{"k":29,"t":117},{"k":29,"t":124},{"k":29,"t":132},{"k":29,"t":140},{"k":29,"t":148},{"k":29,"t":156},{"k":29,"t":165},{"k":29,"t":174},{"k":29,"t":183},{"k":29,"t":192},{"k":29,"t":202},{"k":29,"t":212},{"k":29,"t":222},{"k":29,"t":232},{"k":29,"t":243},{"k":29,"t":255},{"k":29,"t":267},{"k":29,"t":280},{"k":29,"t":306},{"k":29,"t":320},{"k":29,"t":334},{"k":29,"t":348},{"k":29,"t":363},{"k":29,"t":378},{"k":29,"t":394},{"k":29,"t":410},{"k":29,"t":428},{"k":29,"t":446},{"k":29,"t":465},{"k":29,"t":485},{"k":29,"t":505},{"k":29,"t":530},{"k":29,"t":560},{"k":29,"t":590},{"k":29,"t":620},{"k":29,"t":660},{"k":29,"t":700},{"k":29,"t":750},{"k":29,"t":800},{"k":29,"t":860},{"k":29,"t":920},{"k":29,"t":980},{"k":29,"t":1100},{"k":29,"t":1300},{"k":29,"t":1660},
      {"k":29,"t":52},{"k":29,"t":57},{"k":29,"t":63},{"k":29,"t":69},{"k":29,"t":75},{"k":29,"t":81},{"k":29,"t":87},{"k":29,"t":93},{"k":29,"t":99},{"k":29,"t":106},{"k":29,"t":113},{"k":29,"t":120},{"k":29,"t":128},{"k":29,"t":136},{"k":29,"t":144},{"k":29,"t":152},{"k":29,"t":160},{"k":29,"t":169},{"k":29,"t":178},{"k":29,"t":187},{"k":29,"t":197},{"k":29,"t":207},{"k":29,"t":217},{"k":29,"t":227},{"k":29,"t":237},{"k":29,"t":249},{"k":29,"t":261},{"k":29,"t":273},{"k":29,"t":286},{"k":29,"t":299},{"k":29,"t":313},{"k":29,"t":327},{"k":29,"t":341},{"k":29,"t":355},{"k":29,"t":370},{"k":29,"t":386},{"k":29,"t":402},{"k":29,"t":419},{"k":29,"t":437},{"k":29,"t":455},{"k":29,"t":475},{"k":29,"t":495},{"k":29,"t":517},{"k":29,"t":545},{"k":29,"t":575},{"k":29,"t":605},{"k":29,"t":640},{"k":29,"t":680},{"k":29,"t":725},{"k":29,"t":775},{"k":29,"t":830},{"k":29,"t":890},{"k":29,"t":950},
      {"k":29,"t":126},{"k":29,"t":138},{"k":29,"t":150},{"k":29,"t":162},{"k":29,"t":175},{"k":29,"t":189},{"k":29,"t":204},{"k":29,"t":219},{"k":29,"t":235},{"k":29,"t":252},{"k":29,"t":270},{"k":29,"t":290},{"k":29,"t":310},{"k":29,"t":330},{"k":29,"t":352},{"k":29,"t":375},{"k":29,"t":400},{"k":29,"t":425},{"k":29,"t":452},{"k":29,"t":480},{"k":29,"t":510},{"k":29,"t":545},{"k":29,"t":585},{"k":29,"t":630},{"k":29,"t":675},{"k":29,"t":720},{"k":29,"t":780},{"k":29,"t":840},
      {"k":30,"t":77},{"k":30,"t":90},{"k":30,"t":105},{"k":30,"t":120},{"k":30,"t":135},{"k":30,"t":150},{"k":30,"t":165},{"k":30,"t":180},{"k":30,"t":195},{"k":30,"t":210},{"k":30,"t":225},{"k":30,"t":240},{"k":30,"t":255},{"k":30,"t":270},{"k":30,"t":285},{"k":30,"t":315},{"k":30,"t":330},{"k":30,"t":345},{"k":30,"t":360},{"k":30,"t":380},{"k":30,"t":400},{"k":30,"t":420},{"k":30,"t":445},{"k":30,"t":470},{"k":30,"t":500},{"k":30,"t":530},{"k":30,"t":560},{"k":30,"t":600},{"k":30,"t":640},{"k":30,"t":680},
      {"k":30,"t":240},{"k":30,"t":260},{"k":30,"t":280},{"k":30,"t":300},{"k":30,"t":320},{"k":30,"t":340},{"k":30,"t":355},{"k":30,"t":370},{"k":30,"t":390},{"k":30,"t":410},{"k":30,"t":432},{"k":30,"t":458},{"k":30,"t":485},{"k":30,"t":515},{"k":30,"t":545},{"k":30,"t":580},{"k":30,"t":620},
      {"k":31,"t":90},{"k":31,"t":96},{"k":31,"t":102},{"k":31,"t":108},{"k":31,"t":114},{"k":31,"t":120},{"k":31,"t":126},{"k":31,"t":133},{"k":31,"t":140},{"k":31,"t":148},{"k":31,"t":156},{"k":31,"t":165},{"k":31,"t":172},{"k":31,"t":179},{"k":31,"t":244},{"k":31,"t":260},{"k":31,"t":275},{"k":31,"t":290},{"k":31,"t":305},{"k":31,"t":325},{"k":31,"t":340},{"k":31,"t":355},{"k":31,"t":370},{"k":31,"t":390},{"k":31,"t":410},{"k":31,"t":430},{"k":31,"t":455},{"k":31,"t":480},{"k":31,"t":505},{"k":31,"t":530},{"k":31,"t":560},{"k":31,"t":590},{"k":31,"t":613},{"k":31,"t":700},{"k":31,"t":800},{"k":31,"t":900},
      {"k":31,"t":92},{"k":31,"t":99},{"k":31,"t":105},{"k":31,"t":111},{"k":31,"t":117},{"k":31,"t":123},{"k":31,"t":130},{"k":31,"t":137},{"k":31,"t":144},{"k":31,"t":152},{"k":31,"t":160},{"k":31,"t":168},{"k":31,"t":176},{"k":31,"t":250},{"k":31,"t":268},{"k":31,"t":282},{"k":31,"t":298},{"k":31,"t":318},{"k":31,"t":332},{"k":31,"t":348},{"k":31,"t":362},{"k":31,"t":380},{"k":31,"t":400},{"k":31,"t":420},{"k":31,"t":442},{"k":31,"t":468},{"k":31,"t":492},{"k":31,"t":518},{"k":31,"t":545},{"k":31,"t":575},{"k":31,"t":600},
      {"k":32,"t":74},{"k":32,"t":85},{"k":32,"t":97},{"k":32,"t":110},{"k":32,"t":122},{"k":32,"t":134},{"k":32,"t":145},{"k":32,"t":155},{"k":32,"t":165},{"k":32,"t":176},{"k":32,"t":188},{"k":32,"t":200},{"k":32,"t":212},{"k":32,"t":225},{"k":32,"t":238},{"k":32,"t":252},{"k":32,"t":266},{"k":32,"t":280},{"k":32,"t":295},{"k":32,"t":310},{"k":32,"t":325},{"k":32,"t":340},{"k":32,"t":375},{"k":32,"t":392},{"k":32,"t":410},{"k":32,"t":430},{"k":32,"t":450},{"k":32,"t":470},{"k":32,"t":495},{"k":32,"t":520},{"k":32,"t":545},{"k":32,"t":570},{"k":32,"t":600},{"k":32,"t":630},{"k":32,"t":660},{"k":32,"t":700},{"k":32,"t":740},{"k":32,"t":780},{"k":32,"t":830},{"k":32,"t":880},{"k":32,"t":940},{"k":32,"t":1000},
      {"k":32,"t":150},{"k":32,"t":160},{"k":32,"t":170},{"k":32,"t":182},{"k":32,"t":194},{"k":32,"t":206},{"k":32,"t":218},{"k":32,"t":232},{"k":32,"t":245},{"k":32,"t":259},{"k":32,"t":273},{"k":32,"t":288},{"k":32,"t":302},{"k":32,"t":318},{"k":32,"t":332},{"k":32,"t":348},{"k":32,"t":366},{"k":32,"t":384},{"k":32,"t":401},{"k":32,"t":420},{"k":32,"t":440},{"k":32,"t":460},{"k":32,"t":482},{"k":32,"t":508},{"k":32,"t":532},{"k":32,"t":558},{"k":32,"t":585},{"k":32,"t":615},{"k":32,"t":645},{"k":32,"t":680},{"k":32,"t":720},{"k":32,"t":760},{"k":32,"t":800},{"k":32,"t":850},{"k":32,"t":900},
      {"k":33,"t":19},{"k":33,"t":24},{"k":33,"t":30},{"k":33,"t":38},{"k":33,"t":46},{"k":33,"t":55},{"k":33,"t":65},{"k":33,"t":76},{"k":33,"t":88},{"k":33,"t":100},{"k":33,"t":115},{"k":33,"t":130},{"k":33,"t":150},{"k":33,"t":170},{"k":33,"t":195},{"k":33,"t":220},{"k":33,"t":250},{"k":33,"t":285},{"k":33,"t":320},{"k":33,"t":400},{"k":33,"t":450},{"k":33,"t":500},{"k":33,"t":560},{"k":33,"t":630},{"k":33,"t":710},{"k":33,"t":800},{"k":33,"t":900},{"k":33,"t":1050},{"k":33,"t":1250},{"k":33,"t":1480},
      {"k":34,"t":186},{"k":34,"t":210},{"k":34,"t":235},{"k":34,"t":260},{"k":34,"t":285},{"k":34,"t":310},{"k":34,"t":335},{"k":34,"t":360},{"k":34,"t":390},{"k":34,"t":420},{"k":34,"t":450},{"k":34,"t":480},{"k":34,"t":510},{"k":34,"t":540},{"k":34,"t":600},{"k":34,"t":630},{"k":34,"t":665},{"k":34,"t":700},{"k":34,"t":740},{"k":34,"t":780},{"k":34,"t":830},{"k":34,"t":880},{"k":34,"t":950},{"k":34,"t":1050},{"k":34,"t":1200},{"k":34,"t":1400},{"k":34,"t":1860},
      {"k":34,"t":300},{"k":34,"t":330},{"k":34,"t":350},{"k":34,"t":375},{"k":34,"t":405},{"k":34,"t":435},{"k":34,"t":465},{"k":34,"t":495},{"k":34,"t":525},{"k":34,"t":555},{"k":34,"t":585},{"k":34,"t":615},{"k":34,"t":650},{"k":34,"t":685},{"k":34,"t":720},{"k":34,"t":760},{"k":34,"t":805},
      {"k":35,"t":200},{"k":35,"t":240},{"k":35,"t":280},{"k":35,"t":320},{"k":35,"t":360},{"k":35,"t":400},{"k":35,"t":440},{"k":35,"t":480},{"k":35,"t":520},{"k":35,"t":560},{"k":35,"t":610},{"k":35,"t":660},{"k":35,"t":710},{"k":35,"t":760},{"k":35,"t":810},{"k":35,"t":860},{"k":35,"t":920},{"k":35,"t":980},{"k":35,"t":1040},{"k":35,"t":1100},{"k":35,"t":1160},{"k":35,"t":1220},{"k":35,"t":1280},{"k":35,"t":1380},{"k":35,"t":1440},{"k":35,"t":1500},{"k":35,"t":1570},{"k":35,"t":1640},{"k":35,"t":1720},{"k":35,"t":1800},{"k":35,"t":1880},{"k":35,"t":1960},{"k":35,"t":2050},{"k":35,"t":2150},{"k":35,"t":2250},{"k":35,"t":2350},{"k":35,"t":2450},{"k":35,"t":2560},{"k":35,"t":2700},{"k":35,"t":2900},{"k":35,"t":3100},{"k":35,"t":3300},{"k":35,"t":3700},{"k":35,"t":4500},{"k":35,"t":5480},
      {"k":35,"t":340},{"k":35,"t":380},{"k":35,"t":420},{"k":35,"t":460},{"k":35,"t":500},{"k":35,"t":540},{"k":35,"t":585},{"k":35,"t":635},{"k":35,"t":685},{"k":35,"t":735},{"k":35,"t":785},{"k":35,"t":835},{"k":35,"t":890},{"k":35,"t":950},{"k":35,"t":1010},{"k":35,"t":1070},{"k":35,"t":1130},{"k":35,"t":1190},{"k":35,"t":1250},{"k":35,"t":1350},{"k":35,"t":1410},{"k":35,"t":1470},{"k":35,"t":1535},{"k":35,"t":1605},{"k":35,"t":1680},{"k":35,"t":1760},{"k":35,"t":1840},{"k":35,"t":1920},{"k":35,"t":2000},{"k":35,"t":2100},{"k":35,"t":2200},{"k":35,"t":2300},{"k":35,"t":2400},{"k":35,"t":2500},{"k":35,"t":2630},{"k":35,"t":2800},{"k":35,"t":3000},
      {"k":36,"t":331},{"k":36,"t":400},{"k":36,"t":470},{"k":36,"t":540},{"k":36,"t":610},{"k":36,"t":680},{"k":36,"t":750},{"k":36,"t":820},{"k":36,"t":890},{"k":36,"t":960},{"k":36,"t":1030},{"k":36,"t":1100},{"k":36,"t":1170},{"k":36,"t":1250},{"k":36,"t":1420},{"k":36,"t":1500},{"k":36,"t":1600},{"k":36,"t":1700},{"k":36,"t":1800},{"k":36,"t":1920},{"k":36,"t":2050},{"k":36,"t":2200},{"k":36,"t":2400},{"k":36,"t":2650},{"k":36,"t":3000},{"k":36,"t":3500},{"k":36,"t":4500},{"k":36,"t":6000},{"k":36,"t":8000},{"k":36,"t":10800},
      {"k":36,"t":900},{"k":36,"t":1000},{"k":36,"t":1060},{"k":36,"t":1130},{"k":36,"t":1200},{"k":36,"t":1300},{"k":36,"t":1380},{"k":36,"t":1460},{"k":36,"t":1550},{"k":36,"t":1650},{"k":36,"t":1750},{"k":36,"t":1860},{"k":36,"t":1980},{"k":36,"t":2120},
      {"k":37,"t":61},{"k":37,"t":400},{"k":37,"t":800},{"k":37,"t":1100},{"k":37,"t":1300},{"k":37,"t":1700},{"k":37,"t":2100},{"k":37,"t":2800},{"k":37,"t":3600},{"k":37,"t":5000},{"k":37,"t":7000},{"k":37,"t":10000},{"k":37,"t":28500},
      {"k":38,"t":660},{"k":38,"t":800},{"k":38,"t":950},{"k":38,"t":1100},{"k":38,"t":1300},{"k":38,"t":1500},{"k":38,"t":1700},{"k":38,"t":2100},{"k":38,"t":2400},{"k":38,"t":2800},{"k":38,"t":3300},{"k":38,"t":3900},{"k":38,"t":4870},
      {"k":39,"t":131},{"k":39,"t":150},{"k":39,"t":175},{"k":39,"t":200},{"k":39,"t":230},{"k":39,"t":260},{"k":39,"t":300},{"k":39,"t":340},{"k":39,"t":380},{"k":39,"t":430},{"k":39,"t":480},{"k":39,"t":540},{"k":39,"t":600},{"k":39,"t":670},{"k":39,"t":740},{"k":39,"t":820},{"k":39,"t":900},{"k":39,"t":990},{"k":39,"t":1080},{"k":39,"t":1180},{"k":39,"t":1290},{"k":39,"t":1400},{"k":39,"t":1520},{"k":39,"t":1650},{"k":39,"t":1780},{"k":39,"t":1920},{"k":39,"t":2060},{"k":39,"t":2200},{"k":39,"t":2350},{"k":39,"t":2500},{"k":39,"t":2650},{"k":39,"t":2950},{"k":39,"t":3100},{"k":39,"t":3260},{"k":39,"t":3420},{"k":39,"t":3600},{"k":39,"t":3800},{"k":39,"t":4000},{"k":39,"t":4200},{"k":39,"t":4400},{"k":39,"t":4600},{"k":39,"t":4800},{"k":39,"t":5000},{"k":39,"t":5300},{"k":39,"t":5600},{"k":39,"t":6000},{"k":39,"t":6500},{"k":39,"t":7200},{"k":39,"t":8000},{"k":39,"t":9000},{"k":39,"t":10500},{"k":39,"t":16000},{"k":39,"t":50000},
      {"k":39,"t":2250},{"k":39,"t":2420},{"k":39,"t":2580},{"k":39,"t":2720},{"k":39,"t":2870},{"k":39,"t":3020},{"k":39,"t":3180},{"k":39,"t":3340},{"k":39,"t":3510},{"k":39,"t":3700},{"k":39,"t":3900},{"k":39,"t":4100},{"k":39,"t":4300},{"k":39,"t":4500},{"k":39,"t":4700},{"k":39,"t":4900},{"k":39,"t":5150},{"k":39,"t":5450},{"k":39,"t":5800},{"k":39,"t":6200},{"k":39,"t":6800},
      {"k":40,"t":2630},{"k":40,"t":2800},{"k":40,"t":3000},{"k":40,"t":3200},{"k":40,"t":3400},{"k":40,"t":3600},{"k":40,"t":3800},{"k":40,"t":4000},{"k":40,"t":4200},{"k":40,"t":4400},{"k":40,"t":4700},{"k":40,"t":4900},{"k":40,"t":5100},{"k":40,"t":5300},{"k":40,"t":5500},{"k":40,"t":5700},{"k":40,"t":6000},{"k":40,"t":6300},{"k":40,"t":6700},{"k":40,"t":7100},{"k":40,"t":7600},{"k":40,"t":8200},{"k":40,"t":9000},{"k":40,"t":10000},{"k":40,"t":11500},{"k":40,"t":13500},{"k":40,"t":16000},{"k":40,"t":19500},
      {"k":40,"t":2700},{"k":40,"t":2900},{"k":40,"t":3100},{"k":40,"t":3300},{"k":40,"t":3500},{"k":40,"t":3700},{"k":40,"t":3900},{"k":40,"t":4100},{"k":40,"t":4300},{"k":40,"t":4600},{"k":40,"t":4800},{"k":40,"t":5000},{"k":40,"t":5200},{"k":40,"t":5400},{"k":40,"t":5600},{"k":40,"t":5850},{"k":40,"t":6150},{"k":40,"t":6500},
      {"k":41,"t":2650},{"k":41,"t":2850},{"k":41,"t":3050},{"k":41,"t":3250},{"k":41,"t":3450},{"k":41,"t":3650},{"k":41,"t":3850},{"k":41,"t":4050},{"k":41,"t":4250},{"k":41,"t":4500},{"k":41,"t":4750},{"k":41,"t":4950},{"k":41,"t":5150},{"k":41,"t":5350},{"k":41,"t":5600},{"k":41,"t":5900},{"k":41,"t":6200},{"k":41,"t":6600},{"k":41,"t":7000},{"k":41,"t":7500},{"k":41,"t":8100},{"k":41,"t":9200},{"k":41,"t":10500},{"k":41,"t":12500},{"k":41,"t":15000},{"k":41,"t":19000},
      {"k":41,"t":2700},{"k":41,"t":2900},{"k":41,"t":3100},{"k":41,"t":3300},{"k":41,"t":3500},{"k":41,"t":3700},{"k":41,"t":3900},{"k":41,"t":4100},{"k":41,"t":4300},{"k":41,"t":4600},{"k":41,"t":4800},{"k":41,"t":5000},{"k":41,"t":5200},{"k":41,"t":5400},{"k":41,"t":5600},{"k":41,"t":5850},{"k":41,"t":6150},{"k":41,"t":6500},
      {"k":42,"t":450},{"k":42,"t":700},{"k":42,"t":1000},{"k":42,"t":1500},{"k":42,"t":2000},{"k":42,"t":2600},{"k":42,"t":3200},{"k":42,"t":3800},{"k":42,"t":4500},{"k":42,"t":5200},{"k":42,"t":6000},{"k":42,"t":7000},{"k":42,"t":8000},{"k":42,"t":11000},{"k":42,"t":12500},{"k":42,"t":14000},{"k":42,"t":16000},{"k":42,"t":19000},{"k":42,"t":23000},{"k":42,"t":28000},{"k":42,"t":35000},{"k":42,"t":45000},{"k":42,"t":58000},
      {"k":43,"t":13700},{"k":43,"t":15000},{"k":43,"t":16500},{"k":43,"t":17500},
      {"k":44,"t":24500},{"k":44,"t":26000},{"k":44,"t":27000},{"k":44,"t":29500},{"k":44,"t":31000},{"k":44,"t":34000},{"k":44,"t":38700}
    ]
  },
  "resolve": {"axis": {"x": "independent"}, "scale": {"color": "independent"}},
  "layer": [
    {
      "data": {"name": "medians"},
      "mark": {"type": "point", "opacity": 0},
      "encoding": {
        "x": {
          "field": "t",
          "type": "quantitative",
          "scale": {"type": "log", "domain": [0.5, 61500], "nice": false, "zero": false},
          "axis": {
            "orient": "bottom",
            "values": [0.6, 0.7, 0.8, 0.9, 3, 5, 6, 7, 9, 20, 40, 50, 70, 80, 90, 200, 300, 400, 500, 600, 700, 800, 2000, 3000, 4000, 5000, 6000, 7000, 8000, 9000, 20000, 30000, 40000, 50000, 60000],
            "labels": false,
            "grid": false,
            "domain": false,
            "ticks": true,
            "tickSize": 2.5,
            "tickColor": "black",
            "title": null
          }
        },
        "y": {"field": "b", "type": "nominal"}
      }
    },
    {
      "data": {"name": "medians"},
      "mark": {"type": "point", "opacity": 0},
      "encoding": {
        "x": {
          "field": "t",
          "type": "quantitative",
          "axis": {
            "orient": "top",
            "labels": false,
            "ticks": false,
            "domain": false,
            "grid": false,
            "title": "In Figure 47 we show the coverage of our benchmarks over real/estimated human-solve times.",
            "titleFont": "Liberation Serif",
            "titleFontSize": 19.7,
            "titleFontWeight": "normal",
            "titleColor": "black",
            "titleAnchor": "start",
            "titleAlign": "left",
            "titleBaseline": "alphabetic",
            "titleX": -175,
            "titleY": -46
          }
        },
        "y": {"field": "b", "type": "nominal"}
      }
    },
    {
      "data": {"name": "scatter"},
      "transform": [
        {"lookup": "k", "from": {"data": {"name": "medians"}, "key": "k", "fields": ["b", "src"]}}
      ],
      "mark": {"type": "circle", "size": 14, "opacity": 0.2},
      "encoding": {
        "x": {
          "field": "t",
          "type": "quantitative",
          "axis": {
            "orient": "bottom",
            "values": [0.5, 1, 2, 4, 8, 15, 30, 60, 120, 240, 480, 900, 1800, 3600, 7200, 14400, 28800, 57600],
            "labelExpr": "['0.5 s','1 s','2 s','4 s','8 s','15 s','30 s','1 min','2 min','4 min','8 min','15 min','30 min','1 hr','2 hrs','4 hrs','8 hrs','16 hrs'][indexof([0.5,1,2,4,8,15,30,60,120,240,480,900,1800,3600,7200,14400,28800,57600], datum.value)]",
            "labelAngle": -30,
            "labelAlign": "right",
            "labelBaseline": "top",
            "labelFontSize": 12,
            "labelColor": "black",
            "labelPadding": 3,
            "labelOverlap": false,
            "labelBound": false,
            "tickSize": 5,
            "tickColor": "black",
            "domainColor": "black",
            "grid": true,
            "gridColor": "#ebebeb",
            "gridWidth": 0.8,
            "title": "Per-question time (median + per-question scatter)",
            "titleFontSize": 13,
            "titleFontWeight": "normal",
            "titleColor": "black",
            "titlePadding": 9
          }
        },
        "y": {
          "field": "b",
          "type": "nominal",
          "scale": {
            "type": "point",
            "padding": 0.5,
            "domain": ["Arithmetic", "Tower of London", "Chess Puzzles", "Intuitive Physics", "GSM-1K", "A-Level (MCQ)", "CyBashBench (Bash)", "CyBashBench (MCQ)", "N-Hop Lookup", "Stego Monitor", "Domain 1", "Stego Decode", "BEA-24", "Sally-Anne", "Scheming (Numeric)", "A-Level (Image)", "A-Level (Text)", "NL2Bash", "Monitor Poisoning", "KenKen", "Crossword", "Ryan Math", "ARC-AGI-1", "ARC-AGI-2", "Stego Encode", "Domain 4", "Test Case Prediction", "Sudoku", "Causal Reasoning", "Vibe Coding Sabotage", "Puzzle Baron", "Hash", "Scheming (Open)", "Ctrl+Alt+Deceit", "LingOly", "GPQA Diamond", "HCAST", "Stego Strategy", "Codeforces", "SHADE Monitor (Action)", "SHADE Monitor (CoT)", "TerminalBench", "SHADE Agent", "LinuxArena"]
          },
          "axis": {
            "title": null,
            "grid": false,
            "labelFontSize": 12.5,
            "labelColor": "black",
            "labelPadding": 6,
            "tickSize": 5,
            "tickColor": "black",
            "domainColor": "black"
          }
        },
        "color": {
          "field": "src",
          "type": "nominal",
          "scale": {"domain": ["contains real times", "ICL / estimated only"], "range": ["#2a8c4c", "#383838"]},
          "legend": null
        }
      }
    },
    {
      "data": {"name": "medians"},
      "mark": {"type": "circle", "size": 52, "opacity": 1, "stroke": "white", "strokeWidth": 0.9},
      "encoding": {
        "x": {"field": "t", "type": "quantitative", "axis": null},
        "y": {"field": "b", "type": "nominal"},
        "color": {
          "field": "src",
          "type": "nominal",
          "scale": {"domain": ["contains real times", "ICL / estimated only"], "range": ["#2a8c4c", "#383838"]},
          "legend": {
            "title": null,
            "orient": "top-right",
            "offset": 5,
            "fillColor": "white",
            "strokeColor": "#d0d0d0",
            "cornerRadius": 3,
            "padding": 5,
            "labelFontSize": 11,
            "labelColor": "black",
            "labelOffset": 6,
            "rowPadding": 2,
            "symbolType": "M-1,-0.07H1V0.07H-1Z M0.44,0A0.44,0.44 0 1,1 -0.44,0A0.44,0.44 0 1,1 0.44,0Z",
            "symbolSize": 330,
            "symbolStrokeWidth": 0,
            "symbolOpacity": 1
          }
        }
      }
    }
  ]
}
